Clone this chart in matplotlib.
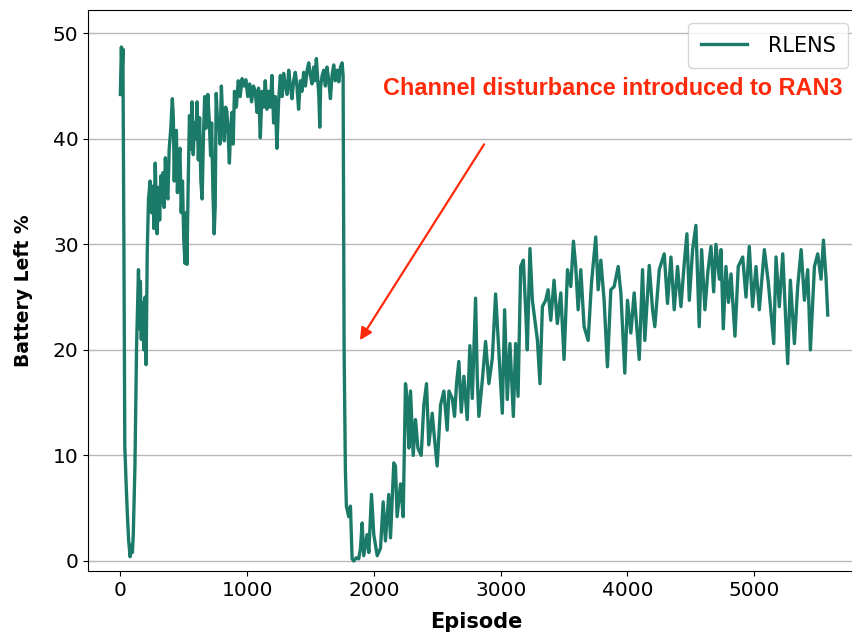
import numpy as np
import matplotlib.pyplot as plt

# Battery left (%) per episode
episodes = [
    0, 8, 14, 20, 28, 35, 45, 55, 65, 77, 88, 95, 102, 115, 128, 143, 150, 158, 165, 175,
    185, 195, 203, 212, 222, 235, 245, 255, 265, 275, 285, 290, 300, 310, 320, 330, 337, 345,
    355, 365, 375, 385, 398, 410, 418, 425, 433, 442, 450, 460, 470, 480, 490, 500, 510, 518,
    525, 535, 545, 555, 565, 575, 585, 595, 605, 615, 625, 635, 645, 655, 665, 675, 690, 700,
    712, 720, 730, 740, 748, 756, 765, 776, 786, 797, 808, 820, 830, 840, 850, 860, 870, 880,
    890, 900, 915, 930, 945, 960, 975, 990, 1005, 1020, 1035, 1050, 1064, 1078, 1090, 1104,
    1117, 1130, 1143, 1156, 1170, 1183, 1196, 1209, 1222, 1235, 1248, 1262, 1275, 1288, 1301,
    1315, 1328, 1341, 1354, 1367, 1380, 1393, 1406, 1420, 1433, 1446, 1460, 1473, 1486, 1499,
    1512, 1525, 1535, 1546, 1558, 1566, 1573, 1580, 1592, 1604, 1617, 1630, 1644, 1657, 1670,
    1683, 1696, 1710, 1723, 1736, 1749, 1757, 1765, 1775, 1783, 1801, 1815, 1828, 1841, 1860,
    1880, 1894, 1907, 1920, 1946, 1960, 1981, 1999, 2026, 2052, 2073, 2091, 2117, 2131, 2157,
    2170, 2183, 2210, 2231, 2249, 2262, 2276, 2289, 2310, 2328, 2347, 2373, 2394, 2415, 2433,
    2460, 2478, 2499, 2526, 2552, 2578, 2592, 2618, 2636, 2652, 2670, 2689, 2710, 2736, 2757,
    2776, 2802, 2815, 2828, 2855, 2881, 2907, 2934, 2960, 2987, 3013, 3031, 3052, 3073, 3100,
    3118, 3137, 3158, 3179, 3197, 3210, 3231, 3250, 3276, 3290, 3310, 3329, 3355, 3374, 3395,
    3421, 3447, 3474, 3500, 3527, 3553, 3574, 3592, 3611, 3632, 3658, 3690, 3716, 3750, 3769,
    3790, 3816, 3842, 3869, 3895, 3927, 3948, 3979, 4000, 4027, 4053, 4093, 4119, 4137, 4172,
    4198, 4216, 4251, 4290, 4316, 4343, 4369, 4395, 4422, 4448, 4469, 4488, 4514, 4540, 4566,
    4585, 4611, 4635, 4659, 4680, 4698, 4725, 4738, 4756, 4777, 4797, 4817, 4848, 4874, 4909,
    4935, 4961, 4987, 5014, 5040, 5080, 5111, 5154, 5172, 5198, 5225, 5243, 5264, 5285, 5317,
    5343, 5370, 5396, 5422, 5443, 5475, 5501, 5527, 5546, 5567, 5580,
]
battery = [
    44.2, 48.7, 46.0, 48.5, 30.0, 10.9, 7.5, 4.5, 2.0, 0.4, 1.5, 0.8, 2.5, 9.0, 20.4, 27.6, 22.0, 26.5, 21.0, 24.5,
    20.0, 25.0, 18.6, 29.3, 34.3, 36.0, 33.0, 35.5, 31.5, 37.7, 33.0, 31.0, 35.4, 32.3, 36.5, 34.0, 36.8, 33.5,
    38.2, 35.0, 34.3, 39.0, 41.0, 43.8, 42.0, 36.0, 40.5, 40.8, 34.9, 38.0, 39.1, 33.0, 36.0, 30.5, 28.2, 33.0,
    28.1, 35.7, 42.2, 39.0, 43.5, 38.5, 41.5, 40.0, 43.5, 38.0, 42.0, 36.0, 34.3, 40.0, 44.0, 41.0, 44.2, 42.0,
    38.4, 41.5, 35.0, 31.0, 33.5, 44.3, 42.0, 41.8, 39.5, 45.0, 41.5, 39.8, 43.0, 42.6, 40.5, 37.7, 41.0, 42.5,
    39.5, 44.5, 43.0, 45.5, 44.0, 45.7, 45.0, 45.6, 44.0, 45.2, 43.5, 45.0, 44.5, 42.5, 44.8, 40.1,
    44.5, 43.0, 45.5, 42.8, 44.5, 43.0, 46.0, 41.5, 44.0, 39.1, 43.5, 46.0, 44.0, 46.2, 45.0,
    44.2, 46.5, 45.0, 43.8, 45.5, 46.3, 45.0, 42.8, 45.5, 44.5, 46.3, 45.0, 46.5, 47.2, 46.0,
    45.2, 46.8, 45.5, 47.6, 45.5, 44.0, 41.1, 45.0, 46.0, 46.5, 45.0, 46.8, 45.5, 43.8, 46.0,
    47.0, 45.5, 46.5, 45.4, 46.8, 47.2, 46.0, 20.0, 8.6, 5.2, 4.2, 5.2, 0.2, 0.0, 0.3,
    0.2, 1.2, 3.6, 0.5, 2.5, 0.8, 6.3, 2.5, 0.5, 1.2, 5.6, 1.9, 6.3, 2.2, 9.3,
    9.0, 4.2, 7.3, 4.2, 16.8, 15.4, 10.7, 16.1, 10.0, 13.4, 10.7, 10.0, 14.8, 16.8, 11.0,
    14.0, 11.6, 9.0, 14.8, 16.1, 12.4, 16.1, 15.4, 13.7, 16.8, 18.9, 14.1, 17.5, 13.4, 20.4,
    15.4, 24.9, 17.5, 13.7, 17.1, 20.8, 16.8, 19.2, 25.3, 19.6, 14.0, 23.8, 15.3, 20.6, 13.7,
    20.6, 15.6, 27.9, 28.5, 23.8, 20.0, 29.6, 24.7, 22.2, 20.9, 16.8, 24.1, 24.7, 25.7, 22.8,
    26.6, 22.5, 25.4, 19.1, 27.6, 26.0, 30.3, 27.9, 23.8, 27.6, 22.2, 20.9, 26.3, 30.7, 25.7,
    28.5, 24.7, 18.4, 25.7, 26.0, 27.9, 25.4, 17.8, 24.7, 21.6, 25.4, 19.1, 27.6, 20.9, 28.0,
    23.8, 22.2, 27.6, 29.1, 24.4, 28.8, 23.8, 27.9, 24.1, 28.2, 31.0, 24.7, 29.5, 31.8, 22.2,
    29.5, 23.8, 27.5, 29.8, 25.5, 30.0, 26.7, 29.5, 22.0, 27.9, 24.5, 27.2, 21.3, 27.9, 28.8,
    25.0, 29.8, 24.1, 27.9, 23.8, 29.5, 26.4, 20.6, 28.8, 24.1, 29.1, 24.4, 18.7, 26.6, 20.6,
    26.0, 29.5, 24.7, 27.6, 20.0, 27.9, 29.1, 26.7, 30.4, 26.7, 23.3,
]

fig = plt.figure(figsize=(8.53, 6.36), dpi=100)
ax = fig.add_axes([0.1035, 0.1022, 0.91, 0.882])

ax.plot(episodes, battery, color='#1b7a68', linewidth=2.4, label='RLENS')

ax.set_xlim(-253, 5870)
ax.set_ylim(-0.95, 52.2)
ax.set_xticks([0, 1000, 2000, 3000, 4000, 5000])
ax.set_yticks([0, 10, 20, 30, 40, 50])
ax.tick_params(labelsize=14.5)
ax.grid(axis='y', color='#b8b8b8', linewidth=1.0)
ax.set_axisbelow(True)

ax.set_xlabel('Episode', fontsize=15, fontweight='bold', labelpad=9)
ax.set_ylabel('Battery Left %', fontsize=13.5, fontweight='bold', labelpad=14)

# annotation for the channel disturbance
ax.annotate('', xy=(1878, 20.7), xytext=(2881, 39.7),
            arrowprops=dict(arrowstyle='-|>', color='#ff2a0a', lw=1.6, mutation_scale=18))
ax.text(2069, 44.8, 'Channel disturbance introduced to RAN3', color='#ff2a0a',
        fontsize=16.9, fontweight='bold', family='Liberation Sans', va='center', ha='left')

leg = ax.legend(loc='upper right', fontsize=15, handlelength=2.2, borderpad=0.6,
                handletextpad=1.0, bbox_to_anchor=(0.992, 0.995))

fig.savefig('out.png', dpi=100)
